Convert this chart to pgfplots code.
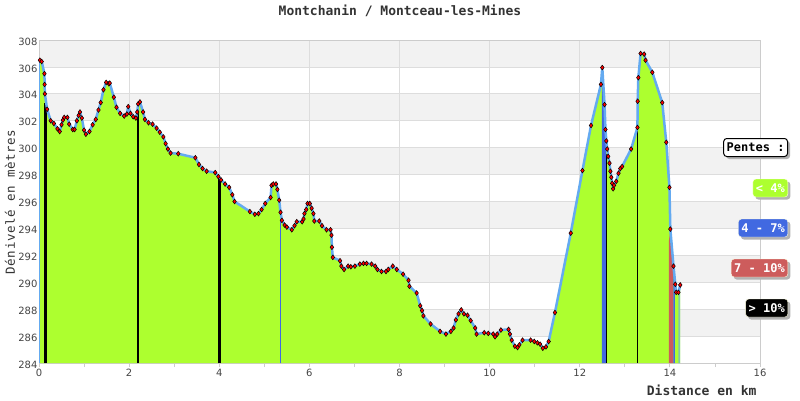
\documentclass[border=0pt]{standalone}
\usepackage{fontspec}
\usepackage{pgfplots}
\usepackage{pgfplotstable}
\pgfplotsset{compat=1.18}
\usetikzlibrary{shadows}
\newfontfamily\monofont{DejaVu Sans Mono}
\newfontfamily\tickfont{DejaVu Sans}
\newfontfamily\ylabfont[LetterSpace=5]{DejaVu Sans Mono}
\definecolor{bandgray}{HTML}{F2F2F2}
\definecolor{gridgray}{HTML}{DDDDDD}
\definecolor{axisgray}{HTML}{CCCCCC}
\definecolor{labelgray}{HTML}{444444}
\definecolor{titlegray}{HTML}{333333}
\definecolor{profgreen}{HTML}{ADFF2F}
\definecolor{lineblue}{RGB}{100,170,240}
\definecolor{segblue}{HTML}{4169E1}
\definecolor{segred}{HTML}{CD5C5C}
\definecolor{segteal}{RGB}{128,200,170}
\definecolor{legborder}{HTML}{FFFFE0}

\pgfplotstableread{
x y
0.02 306.5
0.06 306.4
0.12 305.5
0.125 304.7
0.13 304.0
0.18 302.85
0.26 302.0
0.33 301.8
0.41 301.4
0.46 301.2
0.50 301.7
0.53 302.05
0.56 302.25
0.63 302.25
0.67 301.75
0.75 301.35
0.79 301.35
0.84 302.0
0.88 302.4
0.91 302.65
0.95 302.2
1.00 301.3
1.04 301.0
1.12 301.2
1.19 301.7
1.26 302.1
1.32 302.8
1.37 303.35
1.43 304.3
1.49 304.85
1.55 304.75
1.57 304.8
1.66 303.75
1.72 303.0
1.80 302.55
1.89 302.35
1.95 302.5
1.98 303.05
2.03 302.55
2.09 302.3
2.15 302.2
2.18 302.65
2.20 303.25
2.24 303.4
2.31 302.65
2.35 302.1
2.43 301.85
2.52 301.75
2.61 301.45
2.68 301.15
2.76 300.8
2.81 300.3
2.86 299.9
2.92 299.6
3.09 299.55
3.47 299.25
3.55 298.75
3.63 298.45
3.72 298.25
3.91 298.15
3.98 297.85
4.04 297.6
4.13 297.3
4.22 297.05
4.29 296.5
4.34 296.0
4.68 295.25
4.79 295.05
4.87 295.1
4.94 295.4
5.02 295.85
5.14 296.3
5.16 297.2
5.20 297.3
5.26 297.3
5.29 296.9
5.33 296.1
5.36 295.2
5.39 294.6
5.45 294.25
5.50 294.1
5.61 293.9
5.67 294.2
5.72 294.5
5.84 294.5
5.87 294.7
5.89 295.1
5.93 295.4
5.96 295.85
6.01 295.85
6.05 295.5
6.09 295.1
6.11 294.55
6.22 294.55
6.28 294.2
6.38 293.9
6.47 293.9
6.49 293.5
6.50 292.6
6.52 291.85
6.68 291.6
6.71 291.2
6.77 290.95
6.86 291.2
6.92 291.15
7.01 291.2
7.12 291.35
7.20 291.4
7.27 291.4
7.38 291.35
7.46 291.2
7.51 290.95
7.60 290.8
7.70 290.8
7.75 290.95
7.85 291.2
7.94 290.95
8.08 290.6
8.20 290.15
8.22 289.7
8.38 289.2
8.46 288.25
8.50 287.9
8.53 287.5
8.69 286.9
8.90 286.35
9.03 286.15
9.14 286.35
9.20 286.6
9.25 287.2
9.31 287.65
9.37 287.95
9.43 287.65
9.51 287.55
9.58 287.15
9.68 286.6
9.71 286.15
9.88 286.25
9.97 286.2
10.08 286.15
10.12 285.95
10.17 286.15
10.25 286.45
10.42 286.5
10.45 286.15
10.49 285.7
10.56 285.25
10.62 285.15
10.66 285.35
10.73 285.7
10.91 285.7
10.99 285.6
11.06 285.5
11.12 285.4
11.18 285.1
11.25 285.2
11.31 285.6
11.45 287.75
11.80 293.65
12.06 298.3
12.25 301.65
12.47 304.7
12.50 305.95
12.55 303.2
12.57 301.35
12.59 300.5
12.61 299.9
12.63 299.35
12.66 298.85
12.68 298.25
12.70 297.8
12.72 297.35
12.74 296.95
12.76 297.2
12.81 297.5
12.86 298.1
12.90 298.45
12.94 298.6
13.14 299.9
13.28 301.5
13.285 303.45
13.30 305.2
13.35 307.0
13.43 306.95
13.46 306.5
13.61 305.6
13.83 303.35
13.92 300.4
13.99 297.05
14.01 293.95
14.08 291.2
14.12 289.85
14.14 289.25
14.19 289.25
14.23 289.8
}\profile

\begin{document}
\begin{tikzpicture}
\begin{axis}[
  set layers,
  at={(39pt,37pt)}, anchor=south west,
  scale only axis, width=721pt, height=323pt,
  xmin=0, xmax=16, ymin=284, ymax=308,
  xtick={0,2,...,16}, minor xtick={1,3,...,15},
  ytick={284,286,...,308},
  xtick pos=bottom, ytick pos=left,
  tick align=outside,
  major tick length=4pt, minor tick length=4pt,
  ytick style={draw=none},
  tick style={draw=axisgray, line width=0.8pt},
  grid=major,
  major grid style={draw=gridgray, line width=0.8pt},
  axis line style={draw=axisgray, line width=0.8pt},
  /pgf/number format/assume math mode=true,
  tick label style={font=\tickfont\fontsize{10}{10}\selectfont, text=labelgray},
  yticklabel style={xshift=6pt, yshift=-1.5pt},
  xticklabel style={yshift=1pt},
]
\begin{pgfonlayer}{axis background}
\fill[bandgray] (axis cs:0,286) rectangle (axis cs:16,288);
\fill[bandgray] (axis cs:0,290) rectangle (axis cs:16,292);
\fill[bandgray] (axis cs:0,294) rectangle (axis cs:16,296);
\fill[bandgray] (axis cs:0,298) rectangle (axis cs:16,300);
\fill[bandgray] (axis cs:0,302) rectangle (axis cs:16,304);
\fill[bandgray] (axis cs:0,306) rectangle (axis cs:16,308);
\end{pgfonlayer}
% main green fill
\addplot[draw=none, fill=profgreen] table {\profile} \closedcycle;
% slope-coloured segments
\addplot[draw=none, fill=segblue] coordinates {(12.49,305.3) (12.50,305.95) (12.55,303.2) (12.58,300.9)} \closedcycle;
\addplot[draw=none, fill=segred] coordinates {(13.98,293.1) (14.01,293.9) (14.075,291.3)} \closedcycle;
\addplot[draw=none, fill=segblue] coordinates {(14.08,291.2) (14.11,290.0)} \closedcycle;
\addplot[draw=none, fill=segteal] coordinates {(14.19,289.25) (14.23,289.8)} \closedcycle;
% steep segments (> 10%)
\addplot[ycomb, draw=lineblue, line width=1pt] coordinates {(0.02,306.5)};
\addplot[ycomb, draw=black, line width=2.5pt] coordinates {(0.145,303.3)};
\addplot[ycomb, draw=black, line width=2pt] coordinates {(2.195,303.25)};
\addplot[ycomb, draw=black, line width=3pt] coordinates {(4.01,297.8)};
\addplot[ycomb, draw=segblue, line width=1pt] coordinates {(5.37,294.6)};
\addplot[ycomb, draw=black, line width=1pt] coordinates {(12.59,299.5)};
\addplot[ycomb, draw=black, line width=1pt] coordinates {(13.28,301.4)};
% profile line
\addplot[draw=lineblue, line width=2.5pt, line join=round, no markers] table {\profile};
\addplot[only marks, mark=diamond*, mark size=2.4pt,
  mark options={fill=red, draw=black, line width=0.5pt}] table {\profile};
\end{axis}
% title and axis labels
\node[font=\monofont\bfseries\fontsize{13}{13}\selectfont, text=titlegray, anchor=base] at (400pt,384pt) {Montchanin / Montceau-les-Mines};
\node[font=\monofont\bfseries\fontsize{13}{13}\selectfont, text=titlegray, anchor=base east] at (760pt,5pt) {Distance en km};
\node[font=\ylabfont\fontsize{12.5}{12.5}\selectfont, text=titlegray, rotate=90] at (10pt,198pt) {Dénivelé en mètres};
% slope legend
\tikzset{legbox/.style={anchor=east, rounded corners=3pt, minimum height=18pt, inner xsep=3pt, inner ysep=0pt,
  font=\monofont\bfseries\fontsize{12}{12}\selectfont,
  drop shadow={shadow xshift=2.5pt, shadow yshift=-2.5pt, fill=black!30, opacity=1}}}
\node[legbox, draw=black, line width=1pt, fill=white, text=black] at (788pt,252.5pt) {Pentes :};
\node[legbox, draw=legborder, fill=profgreen, text=white] at (788pt,212pt) {< 4\%};
\node[legbox, draw=legborder, fill=segblue, text=white] at (788pt,172pt) {4 - 7\%};
\node[legbox, draw=legborder, fill=segred, text=white] at (788pt,132pt) {7 - 10\%};
\node[legbox, draw=legborder, fill=black, text=white] at (788pt,92pt) {> 10\%};
\pgfresetboundingbox
\useasboundingbox (0pt,0pt) rectangle (800pt,400pt);
\end{tikzpicture}
\end{document}
